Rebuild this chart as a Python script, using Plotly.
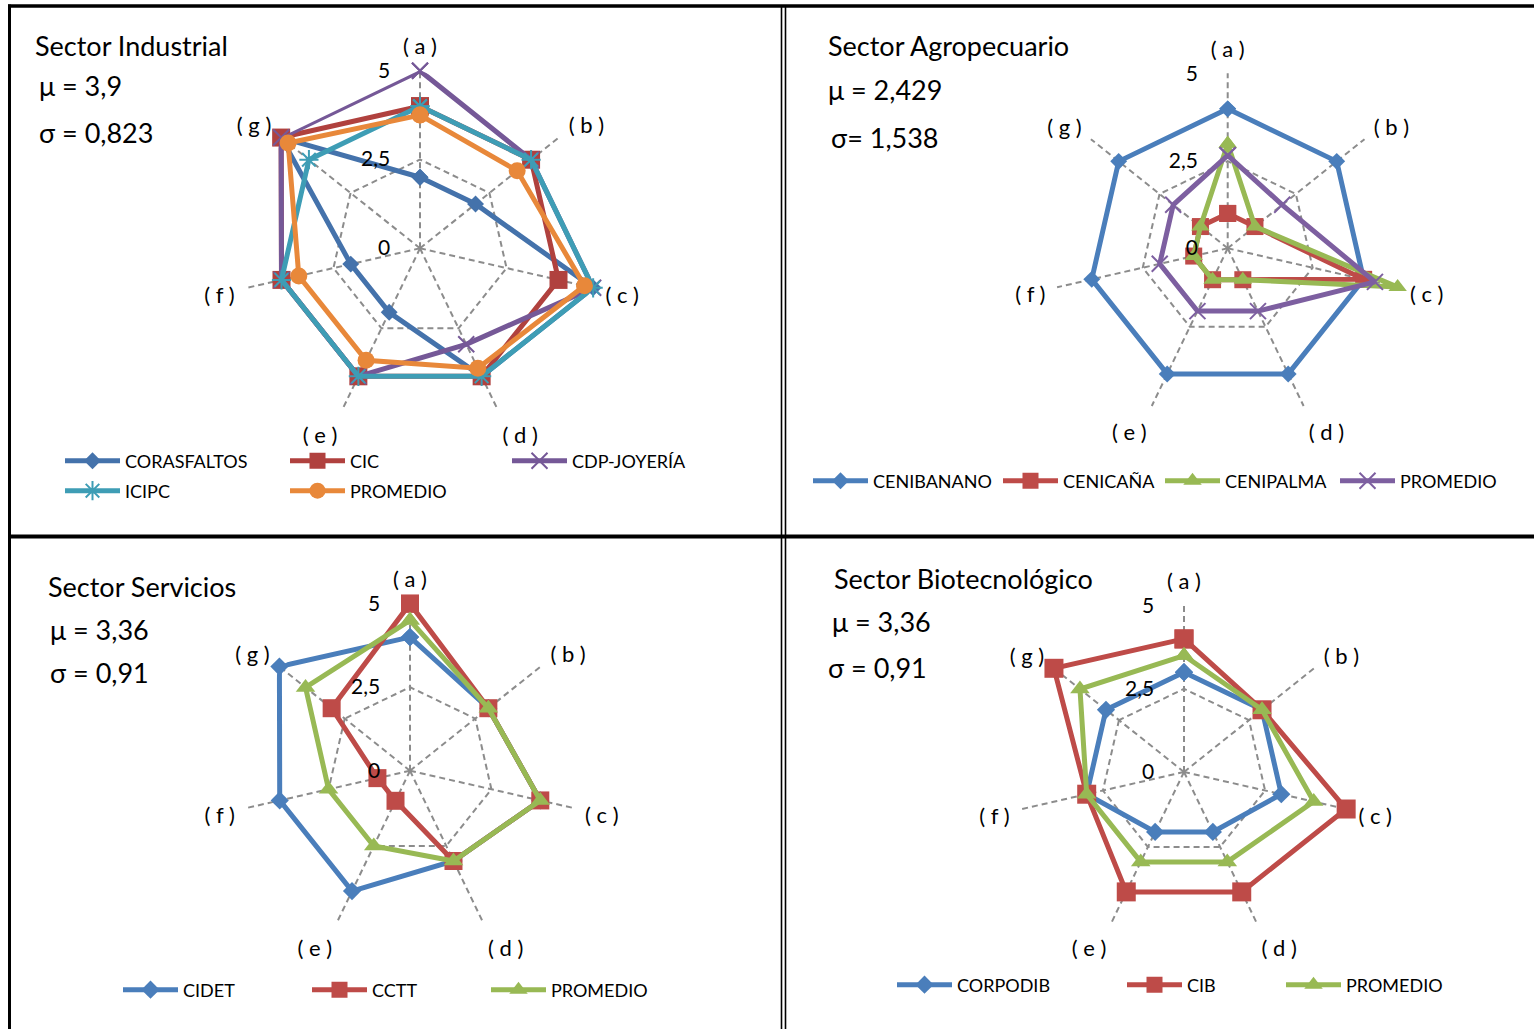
import plotly.graph_objects as go

W, H = 1534, 1029

categories = ['( a )', '( b )', '( c )', '( d )', '( e )', '( f )', '( g )']
radial_ticks = [0, 2.5, 5]
radial_ticktext = ['0', '2,5', '5']

# Sector Industrial
corasfaltos = [2, 2, 5, 4, 2, 2, 5]
cic = [4, 4, 4, 4, 4, 4, 5]
cdp_joyeria = [5, 4, 5, 3, 4, 4, 5]
icipc = [4, 4, 5, 4, 4, 4, 4]
promedio_ind = [3.75, 3.5, 4.75, 3.75, 3.5, 3.5, 4.75]

# Sector Agropecuario
cenibanano = [4, 4, 4, 4, 4, 4, 4]
cenicana = [1, 1, 4, 1, 1, 1, 1]
cenipalma = [3, 1, 5, 1, 1, 1, 1]
promedio_agro = [2.667, 2, 4.333, 2, 2, 2, 2]

# Sector Servicios
cidet = [4, 3, 4, 3, 4, 4, 5]
cctt = [5, 3, 4, 3, 1, 1, 3]
promedio_serv = [4.5, 3, 4, 3, 2.5, 2.5, 4]

# Sector Biotecnologico
corpodib = [3, 3, 3, 2, 2, 3, 3]
cib = [4, 3, 5, 4, 4, 3, 5]
promedio_bio = [3.5, 3, 4, 3, 3, 3, 4]

panel_texts = [
    ['Sector Industrial', 'μ = 3,9', 'σ = 0,823'],
    ['Sector Agropecuario', 'μ = 2,429', 'σ= 1,538'],
    ['Sector Servicios', 'μ = 3,36', 'σ = 0,91'],
    ['Sector Biotecnológico', 'μ = 3,36', 'σ = 0,91'],
]

FONT = 'Lato, "Open Sans", sans-serif'
BLUE, RED, GREEN, PURPLE, TEAL, ORANGE = '#4A7EBB', '#BE4B48', '#98B954', '#7D5FA0', '#46A4BE', '#F08A36'
BLUE1, RED1, PURPLE1, TEAL1, ORANGE1 = '#4472AB', '#B0413E', '#755897', '#3E9DB5', '#E8883A'

# polar centres and radii (pixels)
polar_geom = {
    'polar': (420, 248.3, 178.3),
    'polar2': (1227.7, 248.3, 175),
    'polar3': (410, 770.7, 167.7),
    'polar4': (1184, 772, 167),
}

series = [
    # (subplot, name, values, color, symbol, size, legend position px)
    ('polar', 'CORASFALTOS', corasfaltos, BLUE1, 'diamond', 13, (65, 461)),
    ('polar', 'CIC', cic, RED1, 'square', 18, (290, 461)),
    ('polar', 'CDP-JOYERÍA', cdp_joyeria, PURPLE1, 'x-thin', 16, (512, 461)),
    ('polar', 'ICIPC', icipc, TEAL1, 'asterisk', 16, (65, 491)),
    ('polar', 'PROMEDIO', promedio_ind, ORANGE1, 'circle', 17, (290, 491)),
    ('polar2', 'CENIBANANO', cenibanano, BLUE, 'diamond', 13, (813, 481)),
    ('polar2', 'CENICAÑA', cenicana, RED, 'square', 17, (1003, 481)),
    ('polar2', 'CENIPALMA', cenipalma, GREEN, 'triangle-up', 16, (1165, 481)),
    ('polar2', 'PROMEDIO', promedio_agro, PURPLE, 'x-thin', 16, (1340, 481)),
    ('polar3', 'CIDET', cidet, BLUE, 'diamond', 14, (123, 990)),
    ('polar3', 'CCTT', cctt, RED, 'square', 18, (312, 990)),
    ('polar3', 'PROMEDIO', promedio_serv, GREEN, 'triangle-up', 17, (491, 990)),
    ('polar4', 'CORPODIB', corpodib, BLUE, 'diamond', 14, (897, 985)),
    ('polar4', 'CIB', cib, RED, 'square', 19, (1127, 985)),
    ('polar4', 'PROMEDIO', promedio_bio, GREEN, 'triangle-up', 17, (1286, 985)),
]

fig = go.Figure()
layout_extra = {}
LEG_DX = -5  # offset of legend symbol start inside legend box

for i, (sp, name, vals, col, sym, size, (lx, ly)) in enumerate(series):
    legname = 'legend' if i == 0 else 'legend%d' % (i + 1)
    fig.add_trace(go.Scatterpolar(
        r=list(vals) + [vals[0]],
        theta=categories + [categories[0]],
        subplot=sp,
        name=name,
        mode='lines+markers',
        line=dict(color=col, width=5),
        marker=dict(symbol=sym, size=size, color=col,
                    line=dict(color=col, width=2 if 'thin' in sym or sym == 'asterisk' else 0)),
        cliponaxis=False,
        legend=legname,
        showlegend=True,
    ))
    layout_extra[legname] = dict(
        x=(lx + LEG_DX) / W, y=1 - ly / H, xanchor='left', yanchor='middle',
        orientation='h', bgcolor='rgba(0,0,0,0)', borderwidth=0,
        itemwidth=55, font=dict(family=FONT, size=18, color='#000000'),
    )

for sp, (cx, cy, R) in polar_geom.items():
    layout_extra[sp] = dict(
        domain=dict(x=[(cx - R) / W, (cx + R) / W], y=[1 - (cy + R) / H, 1 - (cy - R) / H]),
        gridshape='linear',
        bgcolor='white',
        radialaxis=dict(range=[0, 5.02], tickvals=radial_ticks, ticktext=radial_ticktext,
                        angle=90, side='counterclockwise', showline=False,
                        ticks='outside', ticklen=22, tickcolor='rgba(0,0,0,0)', tickangle=90,
                        showgrid=True, gridcolor='#8C8C8C', gridwidth=1.5, griddash='6px,4px',
                        tickfont=dict(family=FONT, size=21, color='#000000')),
        angularaxis=dict(type='category', categoryarray=categories, direction='clockwise',
                         rotation=90, showline=False,
                         ticks='outside', ticklen=7, tickcolor='rgba(0,0,0,0)',
                         showgrid=True, gridcolor='#8C8C8C', gridwidth=1.5, griddash='6px,4px',
                         tickfont=dict(family=FONT, size=22, color='#000000')),
    )

# panel texts
text_pos = [
    [(33, 45), (37, 85), (37, 132)],
    [(826, 45), (826, 89), (829, 138)],
    [(46, 586), (48, 629), (48, 672)],
    [(832, 578), (830, 621), (826, 667)],
]
annotations = []
for texts, poss in zip(panel_texts, text_pos):
    for t, (x, y) in zip(texts, poss):
        annotations.append(dict(text=t, x=x / W, y=1 - y / H, xref='paper', yref='paper',
                                xanchor='left', yanchor='middle', showarrow=False,
                                font=dict(family=FONT, size=27, color='#000000')))

# table borders
def hline(y, x0, x1, w):
    return dict(type='line', xref='paper', yref='paper', x0=x0 / W, x1=x1 / W,
                y0=1 - y / H, y1=1 - y / H, line=dict(color='black', width=w))

def vline(x, y0, y1, w):
    return dict(type='line', xref='paper', yref='paper', x0=x / W, x1=x / W,
                y0=1 - y0 / H, y1=1 - y1 / H, line=dict(color='black', width=w))

shapes = [
    hline(6, 8, W, 3.5),
    vline(9.5, 4.5, H, 3),
    vline(781.5, 6, H, 1.6),
    vline(785.5, 6, H, 1.6),
    hline(536.5, 8, W, 4),
]

fig.update_layout(
    width=W, height=H,
    margin=dict(l=0, r=0, t=0, b=0),
    paper_bgcolor='white',
    font=dict(family=FONT, color='#000000'),
    annotations=annotations,
    shapes=shapes,
    **layout_extra,
)

fig.write_html('out.html', config={'displayModeBar': False},
               post_script="document.body.style.margin='0px';")
